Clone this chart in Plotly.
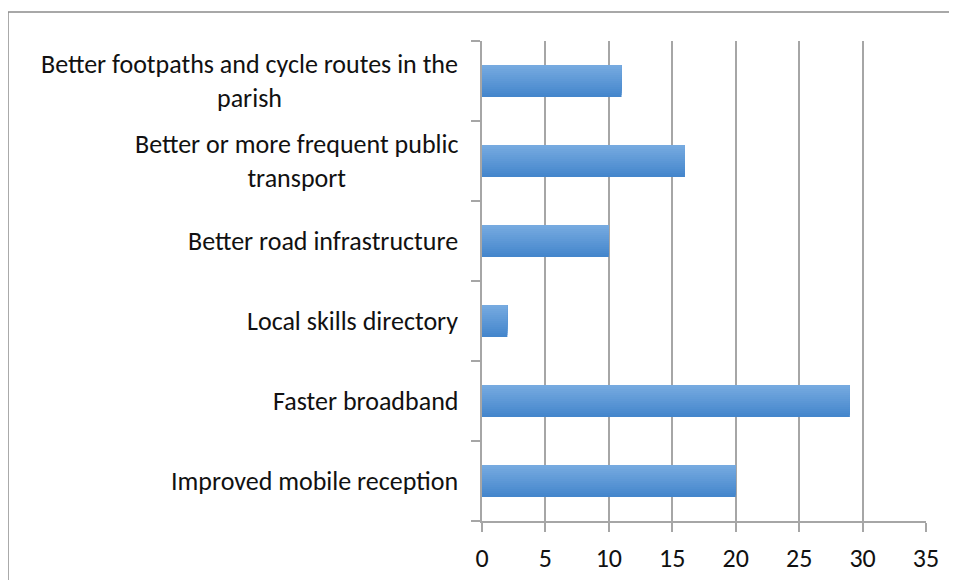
import plotly.graph_objects as go

categories = [
    "Improved mobile reception",
    "Faster broadband",
    "Local skills directory",
    "Better road infrastructure",
    "Better or more frequent public transport",
    "Better footpaths and cycle routes in the parish",
]
label_text = [
    "Improved mobile reception",
    "Faster broadband",
    "Local skills directory",
    "Better road infrastructure",
    "Better or more frequent public<br>transport",
    "Better footpaths and cycle routes in the<br>parish",
]
values = [20, 29, 2, 10, 16, 11]
x_ticks = [0, 5, 10, 15, 20, 25, 30, 35]

FONT = "Carlito, Lato, sans-serif"
FS = 26

# gradient bars: nested stripes, each reaching to the bar top (bottom dark -> top light)
dark = (68, 134, 204)
light = (118, 170, 224)
n = 16
total = 0.4
w = total / n

fig = go.Figure()
for i in range(n):
    t = i / (n - 1)
    c = tuple(int(round(dark[k] + (light[k] - dark[k]) * t)) for k in range(3))
    fig.add_trace(go.Bar(
        x=values, y=categories, orientation="h",
        width=total - i * w, offset=-total / 2 + i * w,
        marker=dict(color="rgb(%d,%d,%d)" % c, line=dict(width=0)),
        showlegend=False, hoverinfo="x+y",
    ))

for cat, lab in zip(categories, label_text):
    fig.add_annotation(
        x=0, xref="paper", y=cat, yref="y", text=lab, showarrow=False,
        xanchor="right", yanchor="middle", align="center", xshift=-22,
        font=dict(family=FONT, size=FS, color="#111111"),
    )

fig.add_shape(type="rect", xref="paper", yref="paper",
              x0=-1.0676, x1=1.3, y0=-0.3, y1=1.0604,
              line=dict(color="#8c8c8c", width=1.5), fillcolor="rgba(0,0,0,0)", layer="below")

fig.update_layout(
    width=957, height=580,
    margin=dict(l=474, r=39, t=33, b=67),
    barmode="overlay",
    plot_bgcolor="white", paper_bgcolor="white",
    font=dict(family=FONT, size=FS, color="#111111"),
    xaxis=dict(
        range=[0, 35], tickvals=x_ticks, ticktext=[str(v) for v in x_ticks],
        showgrid=True, gridcolor="#a6a6a6", gridwidth=1.5,
        showline=True, linecolor="#a6a6a6", linewidth=1.5,
        ticks="outside", ticklen=9, tickcolor="#a6a6a6", tickwidth=1.5,
        ticklabelstandoff=4,
        zeroline=False, fixedrange=True,
        tickfont=dict(family=FONT, size=FS, color="#111111"),
    ),
    yaxis=dict(
        categoryorder="array", categoryarray=categories,
        showticklabels=False, showgrid=False,
        showline=True, linecolor="#a6a6a6", linewidth=1.5,
        ticks="outside", ticklen=9, tickcolor="#a6a6a6", tickwidth=1.5,
        tickson="boundaries", zeroline=False, fixedrange=True,
    ),
)

fig.write_html("out.html")
